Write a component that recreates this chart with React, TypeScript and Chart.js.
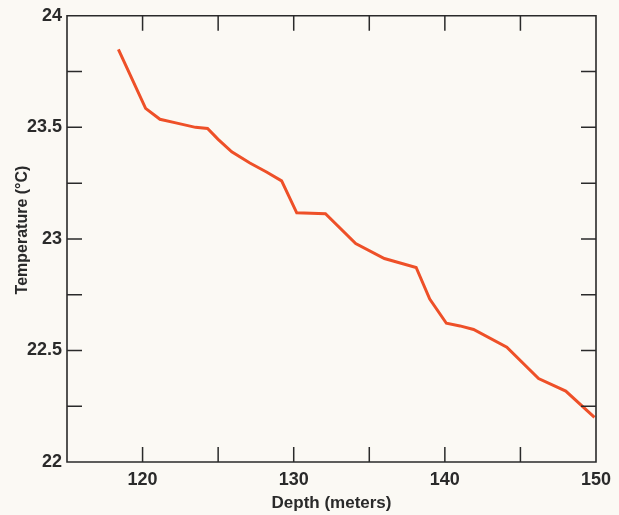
import React, { useEffect, useRef } from "react";
import { Chart, registerables } from "chart.js";

Chart.register(...registerables);

const depthMeters = [118.4, 120.2, 121.15, 122.2, 123.5, 124.3, 125.0, 125.9, 127.1, 128.2, 129.2, 130.2, 132.1, 134.1, 136.0, 138.1, 139.0, 140.1, 141.0, 141.9, 144.1, 146.2, 148.0, 149.9];
const temperatureC = [23.85, 23.585, 23.536, 23.52, 23.5, 23.495, 23.446, 23.39, 23.34, 23.3, 23.26, 23.117, 23.113, 22.979, 22.912, 22.872, 22.73, 22.622, 22.61, 22.594, 22.515, 22.374, 22.318, 22.2];
const xLabelValues = [120, 130, 140, 150];
const yLabelValues = [22, 22.5, 23, 23.5, 24];

const FONT = "'Liberation Sans', Arial, Helvetica, sans-serif";
const INK = "#2a2a2a";
const BG = "#fbf9f4";

const frameTicks = {
  id: "frameTicks",
  afterDraw(chart: any) {
    const { ctx, chartArea: a, scales } = chart;
    const L = 15;
    ctx.save();
    ctx.strokeStyle = INK;
    ctx.lineWidth = 1.6;
    ctx.beginPath();
    ctx.rect(a.left, a.top, a.right - a.left, a.bottom - a.top);
    ctx.stroke();
    ctx.lineWidth = 1.5;
    ctx.beginPath();
    for (const t of scales.x.ticks) {
      const px = scales.x.getPixelForValue(t.value);
      if (px <= a.left + 1 || px >= a.right - 1) continue;
      ctx.moveTo(px, a.bottom);
      ctx.lineTo(px, a.bottom - L);
      ctx.moveTo(px, a.top);
      ctx.lineTo(px, a.top + L);
    }
    for (const t of scales.y.ticks) {
      const py = scales.y.getPixelForValue(t.value);
      if (py <= a.top + 1 || py >= a.bottom - 1) continue;
      ctx.moveTo(a.left, py);
      ctx.lineTo(a.left + L, py);
      ctx.moveTo(a.right, py);
      ctx.lineTo(a.right - L, py);
    }
    ctx.stroke();
    ctx.restore();
  },
};

const bgPlugin = {
  id: "bgFill",
  beforeDraw(chart: any) {
    const { ctx, width, height } = chart;
    ctx.save();
    ctx.fillStyle = BG;
    ctx.fillRect(0, 0, width, height);
    ctx.restore();
  },
};

export default function App() {
  const ref = useRef<HTMLCanvasElement | null>(null);
  useEffect(() => {
    document.body.style.background = BG;
    const canvas = ref.current!;
    const chart = new Chart(canvas, {
      type: "line",
      data: {
        datasets: [
          {
            data: depthMeters.map((d, i) => ({ x: d, y: temperatureC[i] })),
            borderColor: "#ee5028",
            borderWidth: 3,
            pointRadius: 0,
            tension: 0,
            fill: false,
          },
        ],
      },
      options: {
        animation: false,
        responsive: false,
        devicePixelRatio: 1,
        layout: { padding: { top: 14, right: 23, left: 0, bottom: 0 } },
        plugins: { legend: { display: false }, tooltip: { enabled: false } },
        scales: {
          x: {
            type: "linear",
            min: 115,
            max: 150,
            afterFit: (s: any) => {
              s.height = 53;
            },
            grid: { display: false, drawTicks: false },
            border: { display: false },
            ticks: {
              stepSize: 5,
              autoSkip: false,
              maxRotation: 0,
              padding: 7,
              color: INK,
              font: { family: FONT, size: 18, weight: "bold" },
              callback: (v: any) => (xLabelValues.includes(Number(v)) ? String(v) : ""),
            },
            title: {
              display: true,
              text: "Depth (meters)",
              color: INK,
              font: { family: FONT, size: 17, weight: "bold" },
              padding: { top: 0, bottom: 1 },
            },
          },
          y: {
            type: "linear",
            min: 22,
            max: 24,
            afterFit: (s: any) => {
              s.width = 67;
            },
            grid: { display: false, drawTicks: false },
            border: { display: false },
            ticks: {
              stepSize: 0.25,
              autoSkip: false,
              padding: 5,
              color: INK,
              font: { family: FONT, size: 18, weight: "bold" },
              callback: (v: any) => (yLabelValues.includes(Number(v)) ? String(v) : ""),
            },
            title: {
              display: true,
              text: "    Temperature (°C)",
              color: INK,
              font: { family: FONT, size: 16, weight: "bold" },
              padding: { top: 13, bottom: 0 },
            },
          },
        },
      },
      plugins: [bgPlugin, frameTicks],
    } as any);
    return () => chart.destroy();
  }, []);
  return (
    <div style={{ position: "fixed", left: 0, top: 0, width: 619, height: 515, background: BG }}>
      <canvas ref={ref} width={619} height={515} style={{ display: "block", width: 619, height: 515 }} />
    </div>
  );
}
